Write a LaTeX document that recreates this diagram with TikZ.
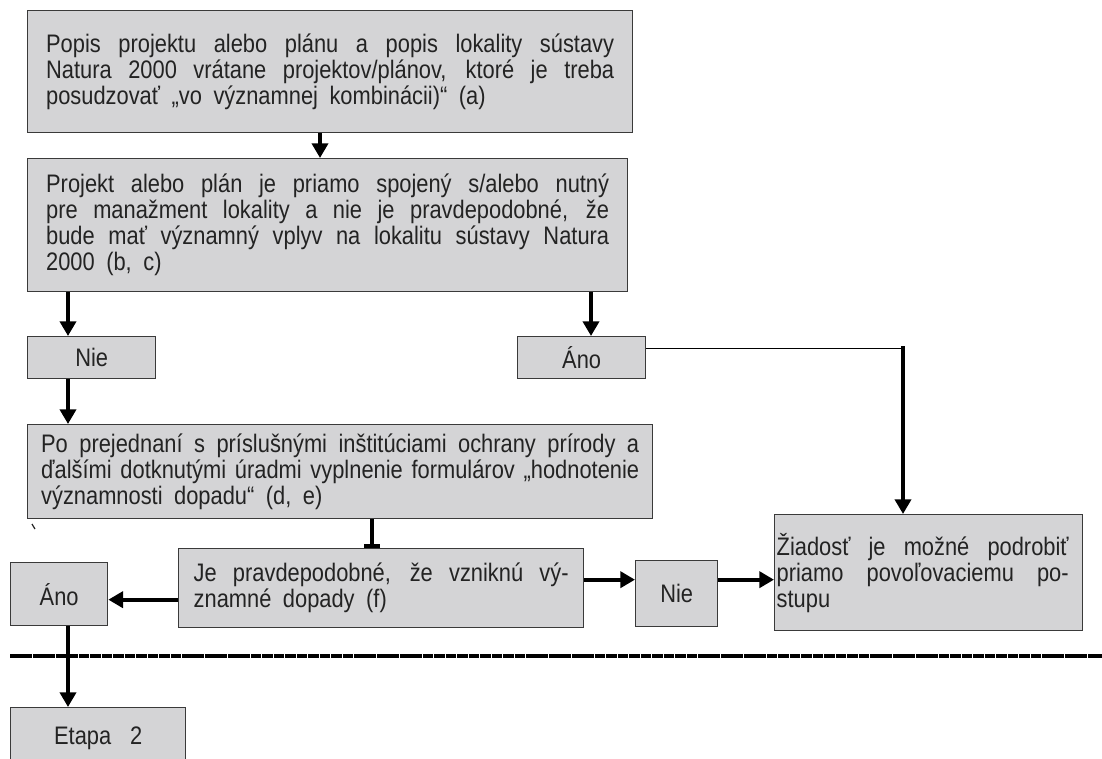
\documentclass[tikz,border=0pt]{standalone}
\usepackage{fontspec}
\setmainfont{Liberation Sans}[FakeStretch=0.863]
\usetikzlibrary{arrows.meta,calc}

\definecolor{boxfill}{RGB}{212,212,214}
\definecolor{boxline}{RGB}{58,58,58}
\definecolor{ink}{RGB}{35,35,35}

% one fully justified line of a box text: width, words
\newcommand{\jl}[2]{\hbox to #1{\spaceskip=\fontdimen2\font plus 1fil\relax
  \xspaceskip=\spaceskip #2}\par}
% closing line with wider word spaces
\newcommand{\wsp}[1]{\noindent{\spaceskip=1.9\fontdimen2\font plus \fontdimen3\font\relax #1}}

\begin{document}
\begin{tikzpicture}[x=0.75pt,y=-0.75pt,
  box/.style={draw=boxline, fill=boxfill, line width=1pt, inner sep=0pt,
    text=ink, anchor=north west, font=\fontsize{19}{19.5}\selectfont},
  arr/.style={line width=3pt, -{Triangle[length=11pt,width=12pt]}},
  teeline/.style={line width=3pt, -{Bar[width=12pt,line width=3pt]}},
  thinline/.style={line width=1.1pt},
  separator/.style={line width=3pt, dash pattern=on 8pt off 0.6pt}]

\useasboundingbox (0,0) rectangle (1102,758);
\clip (0,0) rectangle (1102,758);

% boxes
\node[box, text width=426pt, minimum width=453.75pt, minimum height=91.5pt] (b1) at (27,10)
  {\jl{426pt}{Popis projektu alebo plánu a popis lokality sústavy}
   \jl{426pt}{Natura 2000 vrátane projektov/plánov, ktoré je treba}
   \wsp{posudzovať „vo významnej kombinácii)“ (a)}};

\node[box, text width=422.25pt, minimum width=450pt, minimum height=99.75pt] (b2) at (27,158)
  {\jl{422.25pt}{Projekt alebo plán je priamo spojený s/alebo nutný}
   \jl{422.25pt}{pre manažment lokality a nie je pravdepodobné, že}
   \jl{422.25pt}{bude mať významný vplyv na lokalitu sústavy Natura}
   \wsp{2000 (b, c)}};

\node[box, minimum width=96pt, minimum height=31.5pt] (n1) at (27,336) {Nie};
\node[box, minimum width=96pt, minimum height=31.5pt] (a1) at (517,336) {Áno};

\node[box, text width=448.5pt, minimum width=468.75pt, minimum height=70.5pt] (b3) at (27,424)
  {\jl{448.5pt}{Po prejednaní s príslušnými inštitúciami ochrany prírody a}
   \jl{448.5pt}{ďalšími dotknutými úradmi vyplnenie formulárov „hodnotenie}
   \wsp{významnosti dopadu“ (d, e)}};

\node[box, text width=281.25pt, minimum width=303.75pt, minimum height=59.25pt] (b4) at (178,548)
  {\jl{281.25pt}{Je pravdepodobné, že vzniknú vý-}
   \wsp{znamné dopady (f)}};

\node[box, minimum width=72.75pt, minimum height=47.25pt] (a2) at (10,562) {Áno};
\node[box, minimum width=61.5pt, minimum height=49.5pt] (n2) at (635,560) {Nie};

% text sits close to the left border of this box
\node[box, text width=219pt, minimum width=231pt, minimum height=87pt] (zd) at (774,514)
  {\hspace*{-4.5pt}\vbox{\hsize=219pt
   \jl{219pt}{Žiadosť je možné podrobiť}
   \jl{219pt}{priamo povoľovaciemu po-}
   \noindent stupu}};

\node[box, minimum width=131.25pt, minimum height=46.5pt] (et) at (10,707)
  {Etapa\hspace{0.5em} 2};

% stray mark under the third box
\draw[line width=0.9pt, ink] (32,524) -- (35,529);

% connectors
\coordinate (p1) at ($(b1.south west)+(293,0)$);
\draw[arr] (p1) -- (p1 |- b2.north);

\coordinate (p2) at ($(b2.south west)+(41,0)$);
\draw[arr] (p2) -- (p2 |- n1.north);

\coordinate (p3) at ($(b2.south west)+(564,0)$);
\draw[arr] (p3) -- (p3 |- a1.north);

\coordinate (p4) at ($(n1.south west)+(41,0)$);
\draw[arr] (p4) -- (p4 |- b3.north);

\coordinate (h) at ($(a1.east)+(0,-9)$);
\coordinate (k) at ($(zd.north west)+(129,0)$);
\coordinate (k0) at (h -| k);
\draw[thinline] (h) -- (k0);
\draw[arr] ([yshift=2pt]k0) -- (k);

\coordinate (t0) at ($(b3.south west)+(345,0)$);
\draw[teeline] (t0) -- (t0 |- b4.north);

\coordinate (q) at ($(b4.west)+(0,11.5)$);
\draw[arr] (q) -- (q -| a2.east);

\coordinate (r) at ($(b4.east)+(0,-8.5)$);
\draw[arr] (r) -- (r -| n2.west);
\draw[arr] (r -| n2.east) -- (r -| zd.west);

\coordinate (dl) at (10,656);
\coordinate (dr) at (1102,656);
\draw[separator] (dl) -- (dr);

\coordinate (s) at ($(a2.south west)+(58,0)$);
\draw[arr] (s) -- (s |- et.north);

\end{tikzpicture}
\end{document}
